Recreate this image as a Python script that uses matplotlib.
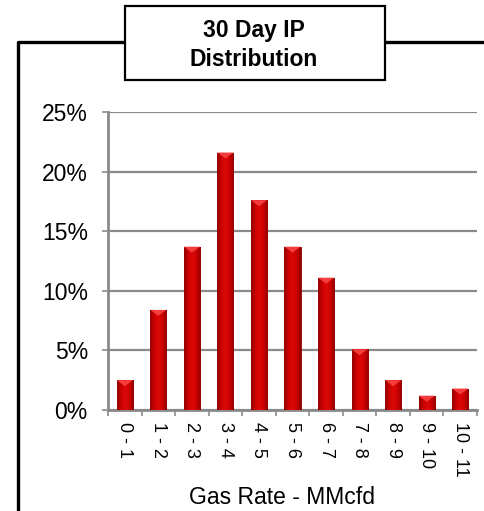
import matplotlib.pyplot as plt
import numpy as np
from matplotlib.colors import LinearSegmentedColormap
from matplotlib.patches import Rectangle, Polygon
from matplotlib.lines import Line2D

plt.rcParams['font.family'] = ['Liberation Sans', 'DejaVu Sans']

# 30 day initial production, share of wells per gas rate bucket
bins = ['0 - 1', '1 - 2', '2 - 3', '3 - 4', '4 - 5', '5 - 6',
        '6 - 7', '7 - 8', '8 - 9', '9 - 10', '10 - 11']
share = [2.5, 8.4, 13.7, 21.6, 17.6, 13.7, 11.1, 5.1, 2.5, 1.2, 1.8]
yticks = [0, 5, 10, 15, 20, 25]

W, H = 484, 511
fig = plt.figure(figsize=(W / 100, H / 100), dpi=100)
ax = fig.add_axes([108 / W, 1 - 410 / H, 369 / W, 298 / H])

grey = '#8a8a8a'
x = np.arange(len(bins))
bw = 0.48
bars = ax.bar(x, share, width=bw, color='#c00000', edgecolor='#8e0000',
              linewidth=0.6, zorder=3)

# shaded cylinder look: darker at the sides, bright in the middle
shade = LinearSegmentedColormap.from_list('shade', ['#900000', '#cc0000', '#dc0808', '#cc0000', '#900000'])
grad = np.linspace(0, 1, 64).reshape(1, -1)
for b in bars:
    x0, w, h = b.get_x(), b.get_width(), b.get_height()
    im = ax.imshow(grad, cmap=shade, aspect='auto', extent=(x0, x0 + w, 0, h),
                   zorder=4, interpolation='bilinear')
    im.set_clip_path(b)
    # light notch at the top of each bar
    d = 0.5
    ax.add_patch(Polygon([(x0, h), (x0 + w, h), (x0 + w / 2, h - d)],
                         closed=True, facecolor='#f43e3e', edgecolor='none', zorder=5))

ax.set_xlim(-0.5, len(bins) - 0.5)
ax.set_ylim(0, 25)
ax.set_yticks(yticks)
ax.set_yticklabels([f'{v}%' for v in yticks], fontsize=16.5)
ax.yaxis.grid(True, color=grey, linewidth=1.6, zorder=0)
ax.set_axisbelow(True)

ax.set_xticks(x)
ax.set_xticklabels(bins, rotation=-90, fontsize=13, va='top')
ax.set_xticks(np.arange(len(bins) + 1) - 0.5, minor=True)
ax.tick_params(axis='x', which='major', length=0, pad=9)
ax.tick_params(axis='x', which='minor', length=4.5, width=1.2, color=grey)
ax.tick_params(axis='y', length=4.5, width=1.2, color=grey, pad=10)

for s in ['top', 'right']:
    ax.spines[s].set_visible(False)
for s in ['left', 'bottom']:
    ax.spines[s].set_color(grey)
    ax.spines[s].set_linewidth(2)

fig.text(282 / W, 1 - 497 / H, 'Gas Rate - MMcfd', fontsize=16.5,
         ha='center', va='center')

# outer frame and title box
fig.add_artist(Line2D([18 / W, 18 / W, 1.02], [-0.02, 1 - 42 / H, 1 - 42 / H],
                      transform=fig.transFigure, color='black', linewidth=2.4))
fig.add_artist(Rectangle((125 / W, 1 - 80 / H), 260 / W, 74 / H,
                         transform=fig.transFigure, facecolor='white',
                         edgecolor='black', linewidth=1.6, zorder=5))
fig.text(254 / W, 1 - 45 / H, '30 Day IP\nDistribution', fontsize=16.5,
         fontweight='bold', ha='center', va='center', linespacing=1.35, zorder=6)

fig.savefig('out.png', dpi=100)
